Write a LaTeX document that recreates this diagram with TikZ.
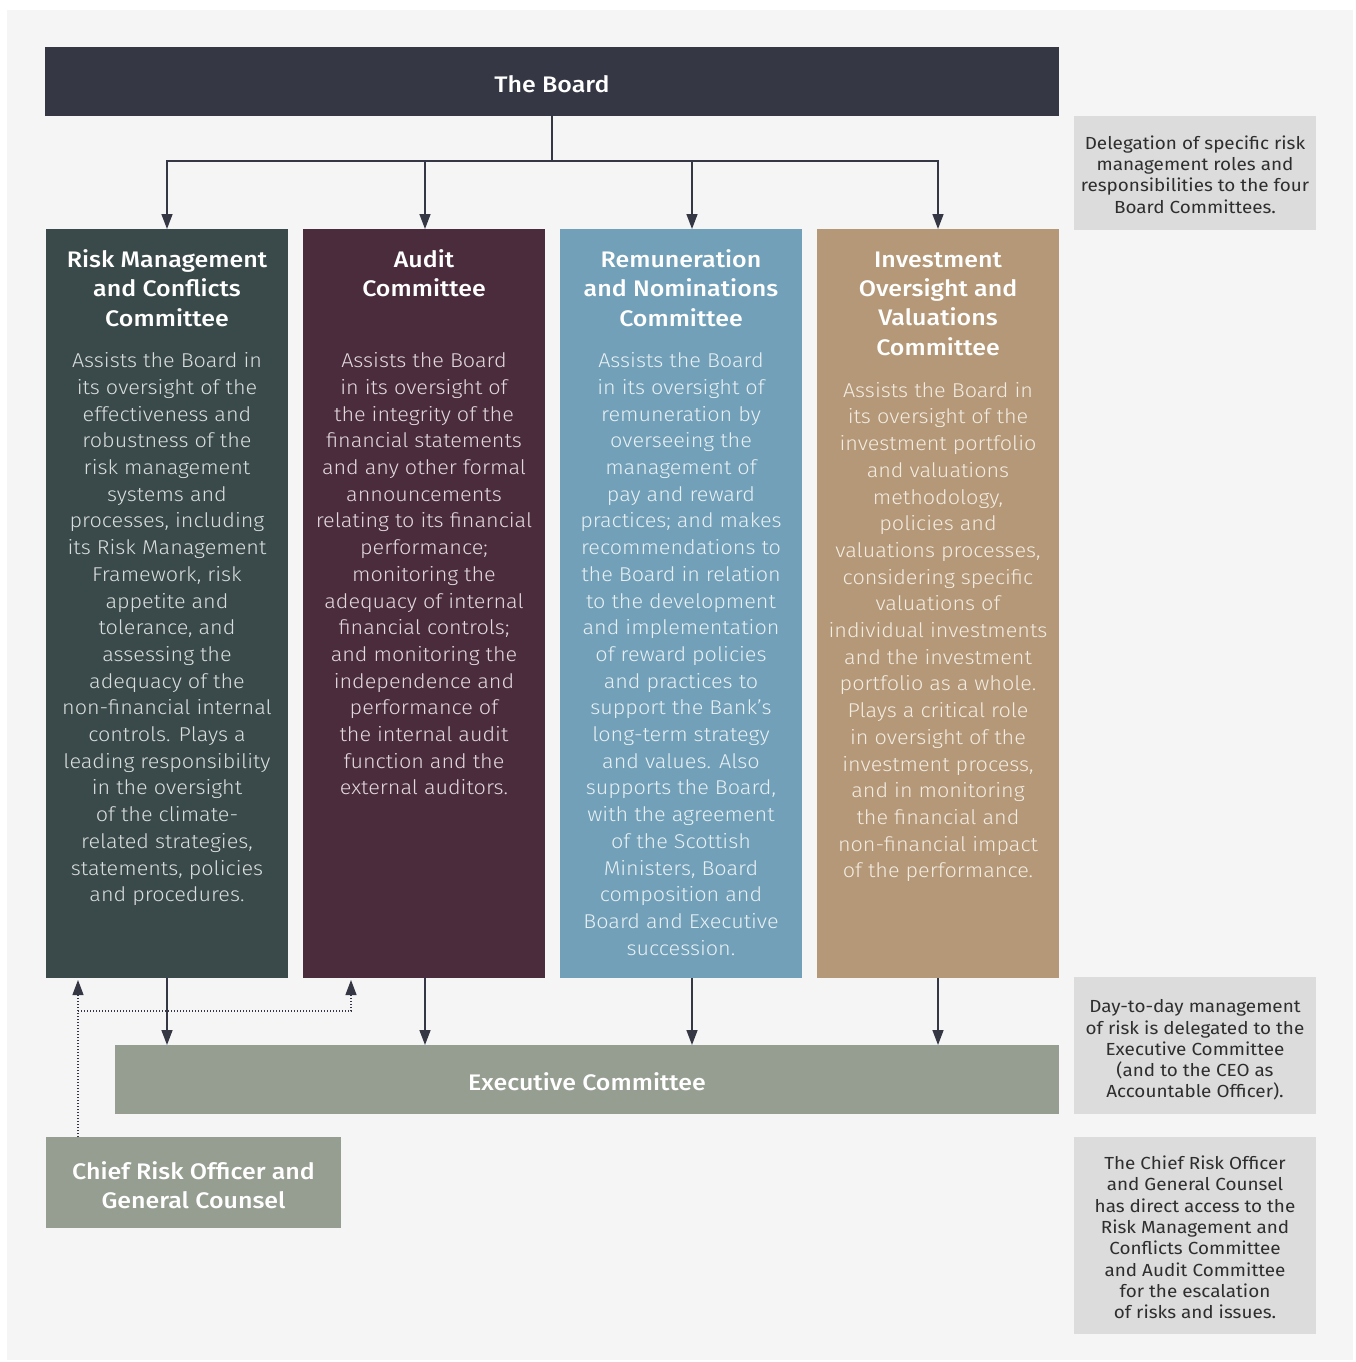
\documentclass[tikz,border=0pt]{standalone}
\usepackage{fontspec}
\setmainfont{Fira Sans}[FakeStretch=1.08]
\newfontfamily\lightfont{Fira Sans Light}[FakeStretch=1.08]
\newfontfamily\medfont{Fira Sans Medium}[FakeStretch=1.11]
\usetikzlibrary{arrows.meta,calc}
\definecolor{bggray}{HTML}{F5F5F5}
\definecolor{notegray}{HTML}{DCDCDC}
\definecolor{boardc}{HTML}{353744}
\definecolor{rmc}{HTML}{3A4949}
\definecolor{auditc}{HTML}{4B2C3C}
\definecolor{remc}{HTML}{71A0B8}
\definecolor{invc}{HTML}{B49877}
\definecolor{execc}{HTML}{969D91}
\definecolor{linec}{HTML}{353744}
\definecolor{notetext}{HTML}{2E2E2E}
\definecolor{rmtext}{HTML}{D9DEDE}
\definecolor{audtext}{HTML}{E2D9DD}
\definecolor{remtext}{HTML}{E8F0F4}
\definecolor{invtext}{HTML}{F3ECE3}
\begin{document}
\begin{tikzpicture}[x=1pt,y=-1pt,
  boxst/.style={inner sep=0pt, outer sep=0pt, anchor=north west, draw=none},
  head/.style={anchor=north, align=center, inner sep=0pt, text=white, font=\medfont\fontsize{22.5}{29.3}\selectfont},
  bodyst/.style={anchor=north, align=center, inner sep=0pt, font=\lightfont\fontsize{20}{26.7}\selectfont},
  notebox/.style={boxst, fill=notegray, minimum width=242pt},
  notest/.style={inner sep=0pt, text=notetext, align=center, font=\fontsize{17.5}{21.3}\selectfont},
  titlest/.style={text=white, align=center, font=\medfont\fontsize{22.5}{29}\selectfont},
  ln/.style={draw=linec, line width=1.5pt},
  arr/.style={ln, -{Triangle[width=11pt,length=15pt]}},
  dotarr/.style={draw=linec, line width=1.2pt, dash pattern=on 1.2pt off 1.8pt, -{Triangle[width=11pt,length=15pt]}}]
\useasboundingbox (0,0) rectangle (1356,1362);
\fill[white] (0,0) rectangle (1356,1362);
\fill[bggray] (7,10) rectangle (1353,1360);

% boxes
\node[boxst, fill=boardc, minimum width=1014pt, minimum height=69pt] (board) at (45,47) {};
\node[titlest] (boardt) at ($(board.center)+(0,2.5)$) {The Board};

\node[boxst, fill=rmc, minimum width=242pt, minimum height=749pt] (rm) at (46,229) {};
\node[boxst, fill=auditc, minimum width=242pt, minimum height=749pt] (audit) at (303,229) {};
\node[boxst, fill=remc, minimum width=242pt, minimum height=749pt] (rem) at (560,229) {};
\node[boxst, fill=invc, minimum width=242pt, minimum height=749pt] (inv) at (817,229) {};

\node[boxst, fill=execc, minimum width=944pt, minimum height=69pt] (exec) at (115,1045) {};
\node[titlest] (exect) at ($(exec.center)+(0,2.5)$) {Executive Committee};

\node[boxst, fill=execc, minimum width=295pt, minimum height=91pt] (cro) at (46,1137) {};
\node[titlest] (crot) at ($(cro.center)+(0,3)$) {Chief Risk Officer and\\General Counsel};

% notes
\node[notebox, minimum height=114pt] (n1) at (1074,116) {};
\node[notest] (n1t) at ($(n1.center)+(0,1.5)$) {Delegation of specific risk\\management roles and\\responsibilities to the four\\Board Committees.};
\node[notebox, minimum height=137pt] (n2) at (1074,977) {};
\node[notest] (n2t) at ($(n2.center)+(0,4.5)$) {Day-to-day management\\of risk is delegated to the\\Executive Committee\\(and to the CEO as\\Accountable Officer).};
\node[notebox, minimum height=197pt] (n3) at (1074,1137) {};
\node[notest] (n3t) at ($(n3.center)+(0,2)$) {The Chief Risk Officer\\and General Counsel\\has direct access to the\\Risk Management and\\Conflicts Committee\\and Audit Committee\\for the escalation\\of risks and issues.};

% committee texts
\node[head] (rmh) at (167,249.5) {Risk Management\\and Conflicts\\Committee};
\node[bodyst, text=rmtext] (rmb) at (167,352.5) {Assists the Board in\\its oversight of the\\effectiveness and\\robustness of the\\risk management\\systems and\\processes, including\\its Risk Management\\Framework, risk\\appetite and\\tolerance, and\\assessing the\\adequacy of the\\non-financial internal\\controls. Plays a\\leading responsibility\\in the oversight\\of the climate-\\related strategies,\\statements, policies\\and procedures.};

\node[head] (audh) at (424,249.5) {Audit\\Committee};
\node[bodyst, text=audtext] (audb) at (424,352.5) {Assists the Board\\in its oversight of\\the integrity of the\\financial statements\\and any other formal\\announcements\\relating to its financial\\performance;\\monitoring the\\adequacy of internal\\financial controls;\\and monitoring the\\independence and\\performance of\\the internal audit\\function and the\\external auditors.};

\node[head] (remh) at (681,249.5) {Remuneration\\and Nominations\\Committee};
\node[bodyst, text=remtext] (remb) at (681,352.5) {Assists the Board\\in its oversight of\\remuneration by\\overseeing the\\management of\\pay and reward\\practices; and makes\\recommendations to\\the Board in relation\\to the development\\and implementation\\of reward policies\\and practices to\\support the Bank’s\\long-term strategy\\and values. Also\\supports the Board,\\with the agreement\\of the Scottish\\Ministers, Board\\composition and\\Board and Executive\\succession.};

\node[head] (invh) at (938,251.5) {Investment\\Oversight and\\Valuations\\Committee};
\node[bodyst, text=invtext] (invb) at (938,382) {Assists the Board in\\its oversight of the\\investment portfolio\\and valuations\\methodology,\\policies and\\valuations processes,\\considering specific\\valuations of\\individual investments\\and the investment\\portfolio as a whole.\\Plays a critical role\\in oversight of the\\investment process,\\and in monitoring\\the financial and\\non-financial impact\\of the performance.};

% board connectors
\coordinate (bus) at (552,161);
\draw[ln] (board.south) -- (bus);
\draw[arr] (bus) -| (rm.north);
\draw[arr] (bus) -| ([xshift=1pt]audit.north);
\draw[arr] (bus) -| ([xshift=11pt]rem.north);
\draw[arr] (bus) -| (inv.north);

% committee to executive
\draw[arr] (rm.south) -- (rm.south |- exec.north);
\draw[arr] ([xshift=1pt]audit.south) -- ([xshift=1pt]audit.south |- exec.north);
\draw[arr] ([xshift=11pt]rem.south) -- ([xshift=11pt]rem.south |- exec.north);
\draw[arr] (inv.south) -- (inv.south |- exec.north);

% dotted escalation lines
\coordinate (crotop) at ([xshift=32pt]cro.north west);
\coordinate (br) at (78,1011);
\coordinate (audacc) at ([xshift=48pt]audit.south west);
\draw[dotarr] (crotop) -- ([yshift=-2pt]crotop |- rm.south);
\draw[dotarr] (br) -| ([yshift=-2pt]audacc);
\end{tikzpicture}
\end{document}
